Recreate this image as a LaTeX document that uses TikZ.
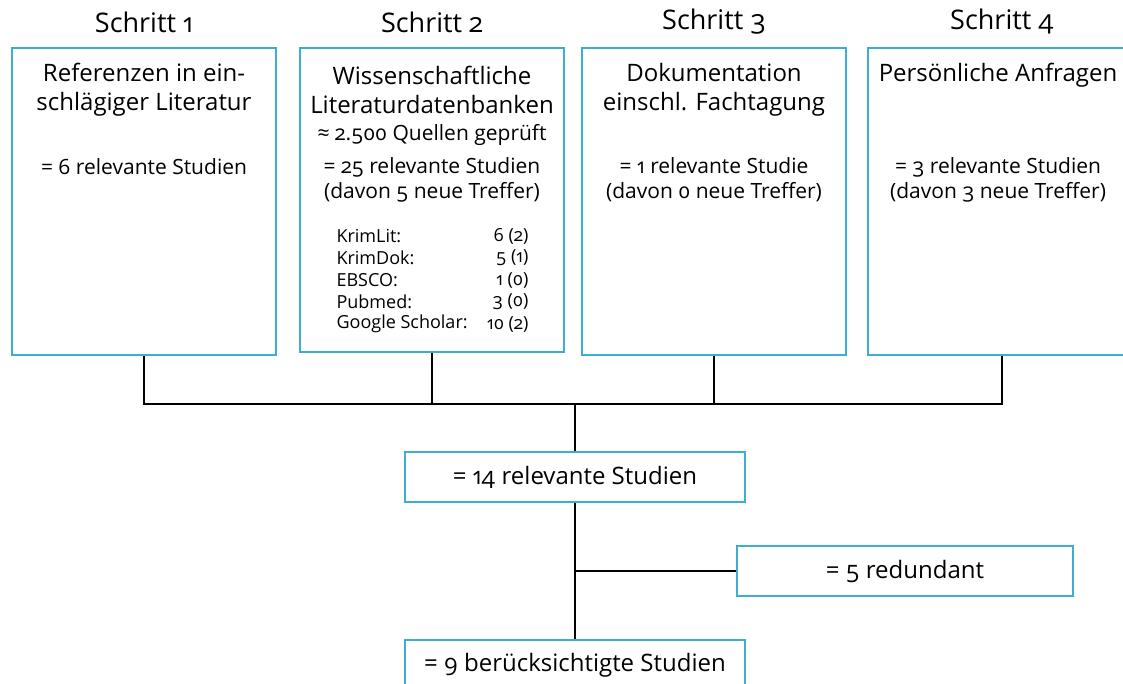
\documentclass[tikz,border=0pt]{standalone}
\usepackage{fontspec}
\setmainfont{Open Sans}[Numbers=OldStyle]
\usetikzlibrary{positioning, calc}
\definecolor{boxblue}{RGB}{62,174,208}

\begin{document}
\begin{tikzpicture}[x=1pt, y=-1pt,
    box/.style={draw=boxblue, line width=2pt, inner sep=0pt},
    head/.style={font=\fontsize{27}{30}\selectfont},
    txt/.style={font=\fontsize{24}{29}\selectfont, align=center},
    small/.style={font=\fontsize{21}{25}\selectfont, align=center},
    lst/.style={font=\fontsize{18}{20}\selectfont},
    link/.style={line width=1.5pt}]
    \useasboundingbox (0,0) rectangle (1123,683);
    \clip (0,0) rectangle (1123,683);

    % headers
    \node[head] (h1) at (144,22) {Schritt 1};
    \node[head] (h2) at (432,22) {Schritt 2};
    \node[head] (h3) at (714,22) {Schritt 3};
    \node[head] (h4) at (1002,22) {Schritt 4};

    % step boxes
    \node[box, minimum width=264pt, minimum height=307pt] (s1) at (144,201.5) {};
    \node[box, minimum width=264pt, minimum height=304pt] (s2) at (432,200) {};
    \node[box, minimum width=264pt, minimum height=307pt] (s3) at (714,201.5) {};
    \node[box, minimum width=268pt, minimum height=307pt] (s4) at (1002,201.5) {};

    \node[txt] (t1) at (144,90) {Referenzen in ein-\\schlägiger Literatur};
    \node[small] (r1) at (144,167) {= 6 relevante Studien};

    \node[txt] (t2) at (432,90) {Wissenschaftliche\\Literaturdatenbanken};
    \node[small] (q2) at (432,135) {≈ 2.500 Quellen geprüft};
    \node[small] (r2) at (432,180) {= 25 relevante Studien\\(davon 5 neue Treffer)};
    \foreach \name/\val [count=\i] in {KrimLit:/6 (2), KrimDok:/5 (1), EBSCO:/1 (0), Pubmed:/3 (0), Google Scholar:/10 (2)} {
        \node[lst, anchor=west] (k\i) at (333,214+22*\i) {\name};
        \node[lst, anchor=east] (n\i) at (532,214+22*\i) {\val};
    }

    \node[txt] (t3) at (714,90) {Dokumentation\\einschl. Fachtagung};
    \node[small] (r3) at (714,180) {= 1 relevante Studie\\(davon 0 neue Treffer)};

    \node[txt] (t4) at (998,75) {Persönliche Anfragen};
    \node[small] (r4) at (998,180) {= 3 relevante Studien\\(davon 3 neue Treffer)};

    % results
    \node[box, txt, minimum width=340pt, minimum height=50pt] (sum) at (575,477) {= 14 relevante Studien};
    \node[box, txt, minimum width=336pt, minimum height=50pt] (red) at (905,571) {= 5 redundant};
    \node[box, txt, minimum width=340pt, minimum height=50pt] (fin) at (575,665) {= 9 berücksichtigte Studien};

    % connectors
    \coordinate (j) at (575,404);
    \draw[link] (s1.south) -- (s1.south |- j) -- (s4.south |- j) -- (s4.south);
    \draw[link] (s2.south) -- (s2.south |- j);
    \draw[link] (s3.south) -- (s3.south |- j);
    \draw[link] (j) -- (sum.north);
    \draw[link] (sum.south) -- (fin.north);
    \draw[link] (sum.south |- red.west) -- (red.west);
\end{tikzpicture}
\end{document}
